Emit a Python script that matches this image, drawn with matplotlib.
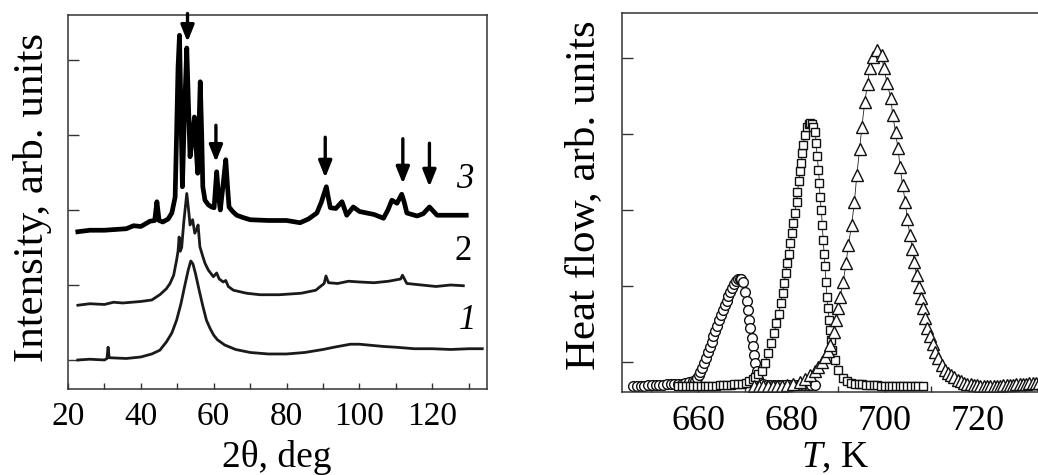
import matplotlib
matplotlib.use("Agg")
import matplotlib.pyplot as plt
from matplotlib.ticker import MultipleLocator

plt.rcParams['font.family'] = ['Liberation Serif', 'DejaVu Serif']
plt.rcParams['mathtext.fontset'] = 'custom'
plt.rcParams['mathtext.rm'] = 'Liberation Serif'
plt.rcParams['mathtext.it'] = 'Liberation Serif:italic'

# ---------------- XRD data (2theta, offset intensity) ----------------
xrd1_x = [22.7, 26, 30, 30.7, 31.0, 31.3, 36, 40, 43, 45.2, 47, 48.5, 49.8, 51, 52, 53, 53.7,
          54.3, 55, 56, 57, 58, 59, 60, 61, 63, 66, 70, 75, 80, 85, 90, 93, 97.5, 100,
          106.6, 110, 115, 120, 125, 130, 133.7]
xrd1_y = [0.0, 0.01, 0.0, 0.02, 0.17, 0.03, 0.02, 0.04, 0.08, 0.13, 0.24, 0.36, 0.53, 0.75, 0.98,
          1.2, 1.32, 1.28, 1.15, 0.93, 0.72, 0.53, 0.42, 0.33, 0.27, 0.2, 0.14, 0.1, 0.08, 0.08,
          0.1, 0.14, 0.17, 0.21, 0.21, 0.18, 0.17, 0.15, 0.15, 0.14, 0.15, 0.15]

xrd2_x = [22.7, 26, 30, 32.5, 35, 40, 43, 45.2, 47, 48, 49, 49.8, 50.2, 50.5, 50.8, 51.2, 51.8,
          52.6, 53.1, 53.5, 54.2, 54.8, 55.4, 55.7, 56.2, 57.0, 57.6, 58.5, 59.9, 60.8, 61.5,
          62.6, 63.3, 64, 65.4, 69, 72.7, 78, 84, 88, 90.3, 90.8, 91.5, 94, 97, 100, 104, 108,
          111.3, 111.8, 113, 117, 121, 125, 128.5]
xrd2_y = [0.73, 0.75, 0.74, 0.77, 0.76, 0.78, 0.8, 0.87, 0.95, 1.02, 1.13, 1.33, 1.45, 1.64,
          1.45, 1.5, 1.85, 2.22, 2.0, 1.8, 1.87, 1.69, 1.75, 1.8, 1.51, 1.38, 1.29, 1.2, 1.11,
          1.16, 1.08, 1.04, 1.06, 0.98, 0.93, 0.89, 0.87, 0.87, 0.89, 0.93, 1.02, 1.12, 1.03,
          1.02, 1.05, 1.04, 1.03, 1.05, 1.08, 1.13, 1.02, 1.0, 0.98, 1.0, 0.99]

xrd3_x = [22.7, 26, 30, 33, 36, 38, 40, 42.5, 43.8, 44.4, 45.0, 46, 47.5, 48.5, 49.4, 49.8,
          50.2, 50.6, 51.0, 51.4, 51.9, 52.6, 53.0, 53.5, 54.1, 54.7, 55.2, 55.6, 56.3, 56.7,
          57.0, 57.6, 58.5, 59.4, 60.1, 60.8, 61.3, 61.8, 62.6, 63.3, 63.8, 64.2, 65.2, 66.3,
          68, 70, 75, 80, 83.7, 86, 88.3, 89.5, 90.9, 91.5, 92.0, 93.5, 95.2, 96.5, 98.3, 100,
          102, 104, 106.6, 107.8, 108.9, 110.3, 111.6, 112.3, 113, 115.8, 117.5, 119.2, 121.3,
          125, 129.3]
xrd3_y = [1.71, 1.73, 1.73, 1.74, 1.75, 1.79, 1.78, 1.85, 1.86, 2.11, 1.86, 1.84, 1.88, 1.96,
          2.17, 3.0, 3.9, 4.33, 3.3, 2.31, 3.2, 4.16, 3.5, 2.71, 2.95, 3.24, 2.8, 2.49, 3.71,
          3.0, 2.31, 2.13, 2.07, 2.04, 2.03, 2.51, 2.2, 2.0, 2.35, 2.67, 2.3, 2.04, 1.98, 1.93,
          1.9, 1.87, 1.86, 1.86, 1.83, 1.88, 1.96, 2.1, 2.31, 2.15, 2.03, 2.02, 2.11, 1.93,
          2.04, 1.98, 1.96, 1.94, 1.89, 2.0, 2.13, 2.09, 2.21, 2.1, 1.96, 1.92, 1.95, 2.04,
          1.93, 1.93, 1.93]

# arrows: position, tail, tip
arrow_x = [52.8, 60.6, 90.6, 111.9, 119.2]
arrow_tail = [4.62, 3.13, 2.97, 2.95, 2.89]
arrow_tip = [4.24, 2.64, 2.43, 2.35, 2.31]

curve_labels = ['3', '2', '1']
curve_label_x = [129.0, 128.5, 129.6]
curve_label_y = [2.4, 1.44, 0.53]

xrd_xticks = [20, 40, 60, 80, 100, 120]

# ---------------- DSC data (T, offset heat flow) ----------------
circ_T = [646.1, 646.9, 647.7, 648.5, 649.3, 650.1, 650.9, 651.7, 652.5, 653.3, 654.1, 654.9,
          655.7, 656.5, 657.3, 658.1, 658.9, 659.3, 659.7, 660.1, 660.5, 660.9, 661.3, 661.7,
          662.1, 662.5, 662.9, 663.3, 663.7, 664.1, 664.5, 664.9, 665.3, 665.7, 666.1, 666.5,
          666.9, 667.3, 667.7, 668.1, 668.5, 668.9, 669.3, 669.7, 670.1, 670.4, 670.8, 671.0,
          671.2, 671.5, 671.7, 672.0, 672.3, 672.6, 672.9, 673.3, 673.9, 674.7, 675.5, 676.3,
          677.1, 677.9, 678.7, 679.5, 680.3, 681.1, 681.9, 682.7, 683.5, 684.3, 685.1]
circ_v = [-0.31, -0.31, -0.31, -0.31, -0.30, -0.30, -0.30, -0.30, -0.30, -0.29, -0.29, -0.29,
          -0.28, -0.28, -0.27, -0.26, -0.25, -0.24, -0.21, -0.17, -0.13, -0.07, -0.01, 0.06,
          0.13, 0.20, 0.27, 0.34, 0.41, 0.48, 0.55, 0.62, 0.69, 0.75, 0.81, 0.87, 0.93, 0.98,
          1.03, 1.07, 1.09, 1.10, 1.09, 1.05, 0.93, 0.80, 0.69, 0.56, 0.45, 0.32, 0.21, 0.10,
          -0.01, -0.12, -0.22, -0.27, -0.29, -0.30, -0.30, -0.30, -0.30, -0.30, -0.30, -0.30,
          -0.30, -0.30, -0.30, -0.30, -0.30, -0.30, -0.30]

sq_T = [655.8, 656.6, 657.4, 658.2, 659.0, 659.8, 660.6, 661.4, 662.2, 663.0, 663.8, 664.6,
        665.4, 666.2, 667.0, 667.8, 668.6, 669.4, 670.2, 671.0, 671.7, 672.3, 672.9, 673.6,
        674.3, 675.0, 675.7, 676.3, 676.8, 677.3, 677.7, 678.1, 678.4, 678.8, 679.1, 679.5,
        679.8, 680.1, 680.3, 680.7, 681.1, 681.3, 681.6, 681.8, 682.1, 682.3, 682.5, 682.9,
        683.3, 683.7, 684.0, 684.4, 684.7, 685.1, 685.3, 685.5, 685.8, 686.0, 686.1, 686.4,
        686.6, 686.8, 687.0, 687.2, 687.4, 687.6, 687.8, 688.1, 688.3, 688.5, 688.8, 689.3,
        690.0, 691.1, 692.0, 692.8, 693.6, 694.4, 695.2, 696.0, 696.8, 697.6, 698.4, 699.2,
        700.0, 700.8, 701.6, 702.4, 703.2, 704.0, 704.8, 705.6, 706.4, 707.2, 708.1]
sq_v = [-0.31, -0.31, -0.31, -0.31, -0.31, -0.31, -0.31, -0.31, -0.31, -0.31, -0.31, -0.30,
        -0.30, -0.30, -0.30, -0.29, -0.29, -0.28, -0.27, -0.25, -0.22, -0.19, -0.16, -0.12,
        -0.01, 0.12, 0.25, 0.38, 0.51, 0.64, 0.78, 0.91, 1.04, 1.17, 1.30, 1.43, 1.57, 1.70,
        1.83, 1.96, 2.11, 2.24, 2.38, 2.51, 2.62, 2.75, 2.86, 2.99, 3.10, 3.14, 3.15, 3.13,
        3.10, 3.03, 2.88, 2.71, 2.53, 2.36, 2.18, 2.00, 1.81, 1.61, 1.43, 1.26, 1.06, 0.86,
        0.71, 0.56, 0.43, 0.29, 0.16, 0.03, -0.10, -0.21, -0.25, -0.27, -0.28, -0.29, -0.29,
        -0.30, -0.30, -0.30, -0.30, -0.31, -0.31, -0.31, -0.31, -0.31, -0.31, -0.31, -0.31,
        -0.31, -0.31, -0.31, -0.31]

tri_T = [672.0, 673.0, 674.0, 675.0, 676.0, 677.0, 678.0, 679.0, 680.4, 681.8, 683.0, 684.0,
         685.0, 685.8, 686.5, 687.2, 687.8, 688.3, 689.1, 689.6, 690.0, 690.4, 691.1, 691.7,
         692.2, 692.9, 693.5, 694.0, 694.6, 695.1, 695.7, 696.3, 696.8, 697.5, 698.3, 699.3,
         699.8, 700.5, 701.3, 701.7, 702.3, 702.8, 703.3, 703.8, 704.4, 704.8, 705.4, 705.9,
         706.3, 706.8, 707.3, 707.7, 708.1, 708.6, 709.1, 709.7, 710.3, 710.8, 711.5, 712.2,
         712.9, 713.5, 714.2, 714.9, 715.6, 716.3, 717.0, 717.7, 718.4, 719.1, 719.8, 720.5,
         721.2, 721.9, 722.6, 723.3, 724.0, 724.7, 725.4, 726.1, 726.8, 727.5, 728.2, 728.9,
         729.6, 730.3, 731.0, 731.7, 732.4, 733.1, 733.8, 734.5]
tri_v = [-0.31, -0.31, -0.31, -0.31, -0.31, -0.31, -0.31, -0.30, -0.28, -0.26, -0.22, -0.17,
         -0.11, -0.06, 0.00, 0.07, 0.15, 0.23, 0.40, 0.56, 0.71, 0.86, 1.06, 1.30, 1.54, 1.81,
         2.11, 2.46, 2.80, 3.10, 3.42, 3.66, 3.87, 4.02, 4.11, 4.04, 3.87, 3.67, 3.47, 3.25,
         3.03, 2.82, 2.57, 2.33, 2.11, 1.89, 1.67, 1.49, 1.32, 1.15, 0.99, 0.84, 0.71, 0.58,
         0.45, 0.34, 0.24, 0.14, 0.05, -0.04, -0.10, -0.14, -0.17, -0.20, -0.23, -0.25, -0.27,
         -0.28, -0.29, -0.30, -0.30, -0.31, -0.31, -0.31, -0.31, -0.31, -0.31, -0.31, -0.30,
         -0.30, -0.30, -0.30, -0.29, -0.29, -0.28, -0.28, -0.27, -0.27, -0.27, -0.27, -0.28,
         -0.28]

dsc_xticks = [660, 680, 700, 720]

# ---------------- figure ----------------
W, H = 1038, 475
fig = plt.figure(figsize=(W / 100, H / 100), dpi=100)
spine_c = '#333333'


def px_axes(l, t, r, b):
    return fig.add_axes([l / W, 1 - b / H, (r - l) / W, (b - t) / H])


# Left panel
ax1 = px_axes(68, 15, 487, 389)
ax1.plot(xrd1_x, xrd1_y, color='#1a1a1a', lw=2.0)
ax1.plot(xrd2_x, xrd2_y, color='#1a1a1a', lw=2.0)
ax1.plot(xrd3_x, xrd3_y, color='black', lw=3.4)
for xa, yt, yh in zip(arrow_x, arrow_tail, arrow_tip):
    ax1.annotate('', xy=(xa, yh), xytext=(xa, yt),
                 arrowprops=dict(arrowstyle='-|>,head_length=1.0,head_width=0.4',
                                 color='black', lw=2.4, mutation_scale=10,
                                 shrinkA=0, shrinkB=0))
for lab, lx, ly in zip(curve_labels, curve_label_x, curve_label_y):
    ax1.text(lx, ly, lab, fontsize=25, style=('normal' if lab == '2' else 'italic'),
             ha='center', va='center')
ax1.set_xlim(20, 135)
ax1.set_ylim(-0.387, 4.6)
ax1.set_xticks(xrd_xticks)
ax1.xaxis.set_minor_locator(MultipleLocator(10))
ax1.set_yticks([0, 1, 2, 3, 4])
ax1.set_yticklabels([])
ax1.tick_params(axis='x', which='both', direction='in', length=4, width=1,
                labelsize=24, pad=9, top=False, color=spine_c)
ax1.tick_params(axis='y', which='both', direction='in', length=8, width=1,
                right=False, color=spine_c)
for s in ax1.spines.values():
    s.set_color(spine_c)
    s.set_linewidth(1.1)

# Right panel
ax2 = px_axes(622, 13.3, 1050, 392.3)
mk = dict(mfc='white', mec='#111111', mew=1.0, color='#222222', lw=0.6)
ax2.plot(circ_T, circ_v, marker='o', ms=7.0, **mk)
ax2.plot(sq_T, sq_v, marker='s', ms=6.2, **mk)
ax2.plot(tri_T, tri_v, marker='^', ms=8.8, **mk)
ax2.set_xlim(643.7, 735.4)
ax2.set_ylim(-0.395, 4.59)
ax2.set_xticks(dsc_xticks)
ax2.xaxis.set_minor_locator(MultipleLocator(10))
ax2.set_yticks([0, 1, 2, 3, 4])
ax2.set_yticklabels([])
ax2.tick_params(axis='x', which='both', direction='in', length=4, width=1,
                labelsize=26, pad=9, top=False, color=spine_c)
ax2.tick_params(axis='y', which='both', direction='in', length=8, width=1,
                right=False, color=spine_c)
for s in ax2.spines.values():
    s.set_color(spine_c)
    s.set_linewidth(1.1)

# Axis labels
fig.text(43 / W, 1 - 197.5 / H, 'Intensity, arb. units', rotation=90, rotation_mode='anchor',
         ha='center', va='baseline', fontsize=31)
fig.text(594 / W, 1 - 195.5 / H, 'Heat flow, arb. units', rotation=90, rotation_mode='anchor',
         ha='center', va='baseline', fontsize=31)
fig.text(277 / W, 1 - 466.7 / H, '2θ, deg', ha='center', va='baseline', fontsize=27)
fig.text(835 / W, 1 - 466.7 / H, r'$T$, K', ha='center', va='baseline', fontsize=27)

fig.savefig('out.png', dpi=100)
